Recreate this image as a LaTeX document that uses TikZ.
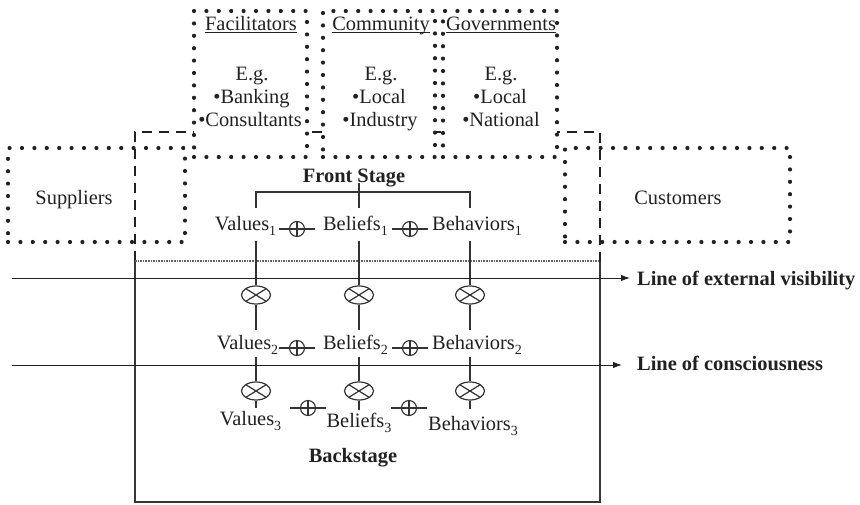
\documentclass[tikz,border=0pt]{standalone}
\usepackage{fontspec}
\setmainfont{Liberation Serif}
\usetikzlibrary{arrows.meta,shapes.geometric}
\definecolor{ink}{gray}{0.13}
\definecolor{wire}{gray}{0.2}
% level index set below the baseline
\newcommand{\lvl}[1]{\raisebox{-5.5pt}{\fontsize{14}{14}\selectfont #1}}
% heading with a rule under it
\newcommand{\headul}[1]{\setbox0=\hbox{#1}\rlap{\rule[-3.2pt]{\wd0}{0.9pt}}\box0}
\begin{document}
\begin{tikzpicture}[x=1pt,y=-1pt,
  font=\fontsize{20.4}{23}\selectfont, text=ink,
  dotbox/.style={rectangle, draw=ink, line width=4.2pt, line cap=round,
    dash pattern=on 0pt off 12.4pt, inner sep=0pt},
  fsdash/.style={draw=ink, line width=2.2pt, dash pattern=on 10pt off 7pt},
  bsframe/.style={draw=ink!90, line width=2.3pt},
  finedot/.style={draw=ink!70, line width=1.4pt, dash pattern=on 1.6pt off 1pt},
  wireline/.style={draw=wire, line width=1.1pt},
  txt/.style={anchor=base, inner xsep=0pt, inner ysep=0pt},
  rowtxt/.style={anchor=base, inner xsep=0pt, text height=14pt, text depth=3pt},
  otimes/.style={ellipse, draw=wire, line width=1.2pt, minimum width=29pt,
    minimum height=18pt, inner sep=0pt,
    path picture={\draw[wire, line width=1.2pt]
      (path picture bounding box.north west) -- (path picture bounding box.south east)
      (path picture bounding box.south west) -- (path picture bounding box.north east);}},
  oplus/.style={circle, draw=wire, line width=1.1pt, minimum size=15pt, inner sep=0pt,
    path picture={\draw[wire, line width=1.1pt]
      (path picture bounding box.north) -- (path picture bounding box.south);}},
  arrowline/.style={draw=ink, line width=1pt, -{Latex[length=9pt,width=6.5pt]}}
]
\useasboundingbox (0,0) rectangle (860,504);

% front stage outline, its top partly covered by the stakeholder boxes
\draw[fsdash] (135,261) |- (600,132) -- (600,261);
% backstage frame
\draw[bsframe] (135,261) |- (600,502) -- (600,261);
\draw[finedot] (135,261) -- (600,261);

% stakeholder boxes above the front stage
\node[dotbox, fill=white, minimum width=113pt, minimum height=146pt] (fac) at (250.5,84) {};
\node[dotbox, fill=white, minimum width=112pt, minimum height=146pt] (com) at (379,84) {};
\node[dotbox, fill=white, minimum width=114pt, minimum height=146pt] (gov) at (500,84) {};

\node[txt] (fac-h) at (251,30) {\headul{Facilitators}};
\node[txt] (fac-e) at (252,80) {E.g.};
\node[txt] (fac-1) at (251.5,103) {•Banking};
\node[txt] (fac-2) at (250,126) {•Consultants};

\node[txt] (com-h) at (381,30) {\headul{Community}};
\node[txt] (com-e) at (381,80) {E.g.};
\node[txt] (com-1) at (379,103) {•Local};
\node[txt] (com-2) at (380,126) {•Industry};

\node[txt] (gov-h) at (501,30) {\headul{Governments}};
\node[txt] (gov-e) at (501,80) {E.g.};
\node[txt] (gov-1) at (500,103) {•Local};
\node[txt] (gov-2) at (501,126) {•National};

% suppliers and customers
\node[dotbox, minimum width=177pt, minimum height=94pt] (sup) at (96.5,195) {};
\node[txt] (sup-t) at (74,204) {Suppliers};
\node[dotbox, minimum width=225pt, minimum height=94pt] (cus) at (677.5,195) {};
\node[txt] (cus-t) at (678,204) {Customers};

% stage titles
\node[txt, font=\fontsize{20.4}{23}\selectfont\bfseries, text depth=1pt] (fs) at (354,182) {Front Stage};
\node[txt, font=\fontsize{20.4}{23}\selectfont\bfseries] (bs) at (353,462) {Backstage};

% level texts
\node[rowtxt, inner ysep=8pt] (v1) at (245.5,230) {Values\lvl{1}};
\node[rowtxt, inner ysep=8pt] (b1) at (355.5,230) {Beliefs\lvl{1}};
\node[rowtxt, inner ysep=8pt] (h1) at (477,230) {Behaviors\lvl{1}};
\node[rowtxt, inner ysep=5pt] (v2) at (247.5,349) {Values\lvl{2}};
\node[rowtxt, inner ysep=5pt] (b2) at (355.5,349) {Beliefs\lvl{2}};
\node[rowtxt, inner ysep=5pt] (h2) at (477,349) {Behaviors\lvl{2}};
\node[rowtxt, inner ysep=3pt] (v3) at (250.5,425) {Values\lvl{3}};
\node[rowtxt, inner ysep=3pt] (b3) at (359,427) {Beliefs\lvl{3}};
\node[rowtxt, inner ysep=7pt] (h3) at (473,430) {Behaviors\lvl{3}};

% multiplying links between levels
\node[otimes] (ox21) at (256,295) {};
\node[otimes] (ox22) at (359,295) {};
\node[otimes] (ox23) at (470,295) {};
\node[otimes] (ox31) at (256,391) {};
\node[otimes] (ox32) at (359,391) {};
\node[otimes] (ox33) at (470,391) {};

% adding links within a level
\node[oplus] (p11) at (297,229) {};
\node[oplus] (p12) at (410,229) {};
\node[oplus] (p21) at (297,348) {};
\node[oplus] (p22) at (410,348) {};
\node[oplus] (p31) at (308,408) {};
\node[oplus] (p32) at (409,408) {};
\foreach \p in {p11,p12,p21,p22,p31,p32}
  \draw[wireline] ([xshift=-10pt]\p.west) -- ([xshift=10pt]\p.east);

% bracket joining the front stage to its three texts
\coordinate (brk) at (359,192);
\draw[wireline] (v1.north -| ox21) |- (brk) -| (h1.north -| ox23);
\draw[wireline] (fs.south -| brk) -- (b1.north -| brk);

% vertical links through the levels
\foreach \t/\c in {v/1,b/2,h/3} {
  \draw[wireline] (\t1.south -| ox2\c) -- (ox2\c.north);
  \draw[wireline] (ox2\c.south) -- (\t2.north -| ox2\c);
  \draw[wireline] (\t2.south -| ox3\c) -- (ox3\c.north);
  \draw[wireline] (ox3\c.south) -- (\t3.north -| ox3\c);
}

% visibility and consciousness lines
\coordinate (ev0) at (12,278);
\node[anchor=base west, inner xsep=7pt, inner ysep=0pt, font=\fontsize{20.4}{23}\selectfont\bfseries] (evl) at (630,285) {Line of external visibility};
\draw[arrowline] (ev0) -- (ev0 -| evl.west);
\coordinate (cn0) at (12,365);
\node[anchor=base west, inner xsep=15pt, inner ysep=0pt, font=\fontsize{20.4}{23}\selectfont\bfseries] (cnl) at (622,370) {Line of consciousness};
\draw[arrowline] (cn0) -- (cn0 -| cnl.west);
\end{tikzpicture}
\end{document}
